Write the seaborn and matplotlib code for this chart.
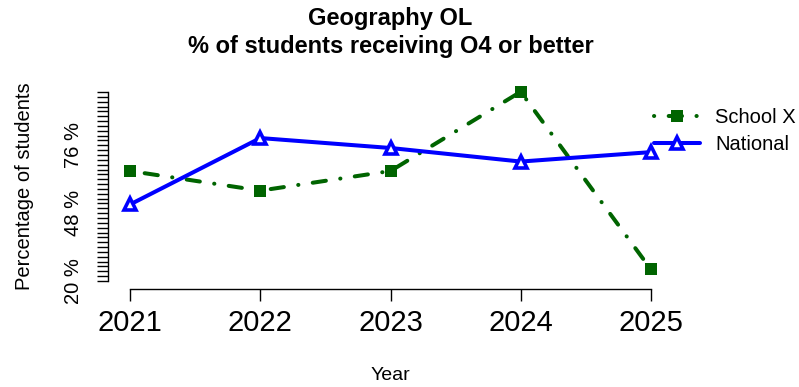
import matplotlib
matplotlib.use("Agg")
import matplotlib.pyplot as plt
import seaborn as sns
import pandas as pd
import numpy as np

years = [2021, 2022, 2023, 2024, 2025]
school_x = [65.4, 57.3, 65.4, 98.1, 24.8]
national = [51.6, 79.0, 74.9, 69.3, 73.2]
series_names = ["School X", "National"]
ytick_labels = {20: "20 %", 48: "48 %", 76: "76 %"}

sns.set_style("white")
plt.rcParams['font.family'] = ['Liberation Sans', 'DejaVu Sans']
plt.rcParams['text.color'] = 'black'
plt.rcParams['xtick.color'] = 'black'
plt.rcParams['ytick.color'] = 'black'

W, H = 799, 387
fig = plt.figure(figsize=(W / 100, H / 100), dpi=100)
L, R, B, T = 108, 673, 289, 85
ax = fig.add_axes([L / W, 1 - B / H, (R - L) / W, (B - T) / H])

df_s = pd.DataFrame({"Year": years, "Value": school_x})
df_n = pd.DataFrame({"Year": years, "Value": national})

sns.lineplot(data=df_s, x="Year", y="Value", ax=ax, color="#006400", lw=2.9,
             marker="s", markersize=9, markeredgewidth=0, label=series_names[0],
             linestyle=(0, (0.05, 3.6, 3.3, 3.6)))
sns.lineplot(data=df_n, x="Year", y="Value", ax=ax, color="#0000ff", lw=2.9,
             marker="^", markersize=9, markerfacecolor="white", markeredgecolor="#0000ff",
             markeredgewidth=2.6, label=series_names[1])
for ln in ax.get_lines():
    ln.set_dash_capstyle("round")
    ln.set_solid_capstyle("round")
    ln.set_clip_on(False)

ax.set_xlim(2020.83, 2025.17)
ax.set_ylim(16.7, 100.9)

for s in ["top", "right"]:
    ax.spines[s].set_visible(False)
for s in ["left", "bottom"]:
    ax.spines[s].set_visible(True)
    ax.spines[s].set_color("black")
    ax.spines[s].set_linewidth(1.0)
ax.spines["bottom"].set_bounds(2021, 2025)
ax.spines["left"].set_bounds(20, 98)

ax.set_xticks(years)
ax.set_xticklabels([str(y) for y in years], fontsize=21)
yt = list(range(20, 100, 2))
ax.set_yticks(yt)
ax.set_yticklabels([ytick_labels.get(v, "") for v in yt], fontsize=14.5, rotation=90, va="center")
ax.tick_params(axis="x", direction="out", length=8.5, width=1.0, color="black", pad=6, bottom=True)
ax.tick_params(axis="y", direction="out", length=8, width=1.0, color="black", pad=10, left=True)
ax.set_xlabel("")
ax.set_ylabel("")
ax.grid(False)

fig.text(390.5 / W, 1 - 18 / H, "Geography OL", ha="center", va="center", fontsize=17, fontweight="bold")
fig.text(390.5 / W, 1 - 47 / H, "% of students receiving O4 or better", ha="center", va="center",
         fontsize=17, fontweight="bold")
fig.text(390.5 / W, 1 - 376 / H, "Year", ha="center", va="center", fontsize=14)
fig.text(25 / W, 1 - 186 / H, "Percentage of students", ha="center", va="center", fontsize=14.5, rotation=90)

leg = ax.legend(loc="upper left", bbox_to_anchor=(654 / W, 1 - 108 / H), bbox_transform=fig.transFigure,
                frameon=False, fontsize=14.5, handlelength=2.3, handletextpad=0.75, borderpad=0,
                labelspacing=0.4, borderaxespad=0)

fig.savefig("out.png", dpi=100)
